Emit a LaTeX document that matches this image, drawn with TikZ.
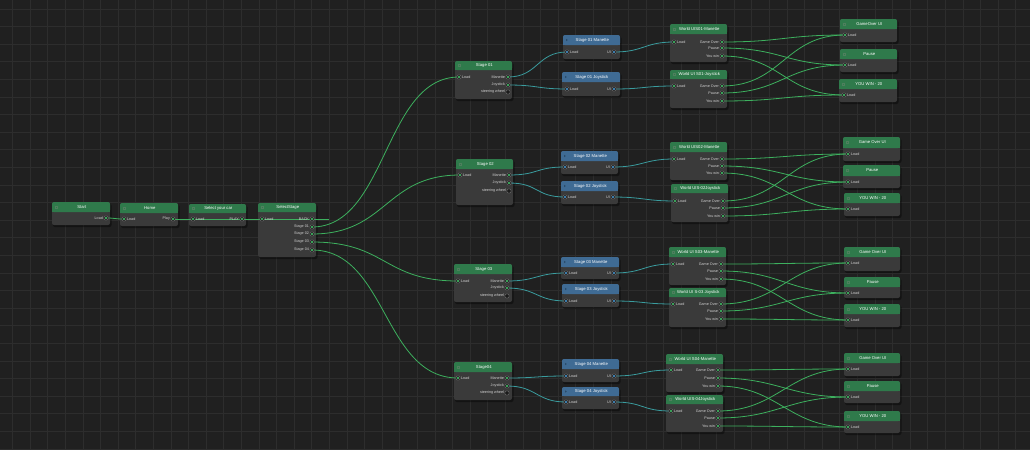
\documentclass[tikz,border=0pt]{standalone}
\usepackage{fontspec}
\setmainfont{Liberation Sans}
\usetikzlibrary{fit}
\definecolor{bgc}{HTML}{202020}
\definecolor{gridc}{HTML}{2D2D2D}
\definecolor{bodyc}{HTML}{3A3A3A}
\definecolor{greenh}{HTML}{2F7A4B}
\definecolor{blueh}{HTML}{3F6B94}
\definecolor{wgc}{HTML}{3DB05E}
\definecolor{wtc}{HTML}{3A9C9E}
\definecolor{portc}{HTML}{1C1C1C}
\definecolor{portd}{HTML}{6A6A6A}
\definecolor{dotg}{HTML}{45D06E}
\definecolor{dotb}{HTML}{4AA0E0}
\definecolor{labc}{HTML}{D2D2D2}
\definecolor{gicd}{HTML}{4F7F5E}
\definecolor{bicd}{HTML}{2A4A68}
\pgfdeclarelayer{bg}
\pgfdeclarelayer{top}
\pgfsetlayers{bg,main,top}
\tikzset{
  x=1pt, y=-1pt,
  ttl/.style={text=white,font=\fontsize{4.2}{5}\selectfont,inner sep=0pt},
  plab/.style={text=labc,font=\fontsize{3.7}{4}\selectfont,inner sep=0pt},
  port/.style={circle,inner sep=0pt,minimum size=4.4pt,fill=portc,draw=portd,line width=0.4pt},
  wireg/.style={draw=wgc,line width=0.8pt},
  wiret/.style={draw=wtc,line width=0.8pt},
  gicon/.style={draw=gicd,line width=0.35pt,inner sep=0pt,minimum size=2.2pt},
  bodystyle/.style={inner sep=0pt,fill=bodyc,rounded corners=2pt}
}
% #1 name, #2 x1, #3 y1, #4 x2, #5 y header bottom, #6 y2, #7 title, #8 header colour
\newcommand\nbox[8]{%
  \fill[black,opacity=.4,rounded corners=2pt] (#2+1,#3+1.5) rectangle (#4+1.5,#6+2);
  \node[fit={(#2,#3)(#4,#6)},bodystyle] (#1) {};
  \fill[#8,rounded corners=2pt] (#2,#3) rectangle (#4,#5);
  \fill[#8] (#2,#5-2.5) rectangle (#4,#5);
  \node[ttl] (#1-t) at ({(#2+#4)/2+0.8},{(#3+#5)/2}) {#7};
}
\newcommand\gbox[7]{\nbox{#1}{#2}{#3}{#4}{#5}{#6}{#7}{greenh}%
  \node[gicon] (#1-i) at (#2+3.8,{(#3+#5)/2}) {};}
\newcommand\bbox[7]{\nbox{#1}{#2}{#3}{#4}{#5}{#6}{#7}{blueh}%
  \fill[bicd] (#2+3,{(#3+#5)/2-1.2}) -- ++(1.8,1.2) -- ++(-1.8,1.2) -- cycle;}
% ports: #1 name, #2 x, #3 y, #4 label, #5 dot colour
\newcommand\pin[5]{\begin{pgfonlayer}{top}
  \node[port] (#1) at (#2,#3) {};
  \fill[#5] (#1.center) circle (1.1);
  \node[plab,anchor=west] (#1-l) at (#2+2.9,#3) {#4};
  \end{pgfonlayer}}
\newcommand\pout[5]{\begin{pgfonlayer}{top}
  \node[port] (#1) at (#2,#3) {};
  \fill[#5] (#1.center) circle (1.1);
  \node[plab,anchor=east] (#1-l) at (#2-2.9,#3) {#4};
  \end{pgfonlayer}}
\newcommand\poutx[4]{\begin{pgfonlayer}{top}
  \node[port] (#1) at (#2,#3) {};
  \node[plab,anchor=east] (#1-l) at (#2-2.9,#3) {#4};
  \end{pgfonlayer}}
\newcommand\wire[4]{\draw[#1] (#2.center) .. controls +(#4,0) and +(-#4,0) .. (#3.center);}

\begin{document}
\begin{tikzpicture}
\useasboundingbox (0,0) rectangle (1030,450);
\begin{pgfonlayer}{bg}
  \fill[bgc] (0,0) rectangle (1030,450);
  \foreach \i in {0,...,58} \draw[gridc,line width=0.7pt] (12.5+\i*17.6,0) -- (12.5+\i*17.6,450);
  \foreach \j in {0,...,25} \draw[gridc,line width=0.7pt] (0,9+\j*17.6) -- (1030,9+\j*17.6);
\end{pgfonlayer}

% ---------- left chain ----------
\gbox{start}{52}{202}{110}{212}{225}{Start}
\pout{start-load}{106}{218}{Load}{dotg}
\gbox{home}{120}{203}{178}{213}{226}{Home}
\pin{home-load}{124}{219}{Load}{dotg}
\pout{home-play}{173}{219}{Play}{dotg}
\gbox{car}{189}{204}{246}{213}{226}{Select your car}
\pin{car-load}{193}{219}{Load}{dotg}
\pout{car-play}{242}{219}{PLAY}{dotg}
\gbox{ss}{258}{203}{316}{212}{257}{SelectStage}
\pin{ss-load}{262}{219}{Load}{dotg}
\pout{ss-back}{312}{219}{BACK}{dotg}
\pout{ss-s1}{312}{227}{Stage 01}{dotg}
\pout{ss-s2}{312}{234}{Stage 02}{dotg}
\pout{ss-s3}{312}{242}{Stage 03}{dotg}
\pout{ss-s4}{312}{250}{Stage 04}{dotg}
\coordinate (backend) at (329,219);

% ---------- group 1 ----------
\gbox{s1}{455}{61}{512}{70}{99}{Stage 01}
\pin{s1-load}{459}{77}{Load}{dotg}
\pout{s1-man}{508}{77}{Manette}{dotg}
\pout{s1-joy}{508}{85}{Joystick}{dotg}
\poutx{s1-sw}{508}{92}{steering wheel}
\bbox{m1}{563}{35}{620}{45}{59}{Stage 01 Manette}
\pin{m1-load}{567}{52}{Load}{dotb}
\pout{m1-ui}{614}{52}{UI}{dotb}
\bbox{j1}{562}{72}{620}{82}{96}{Stage 01 Joystick}
\pin{j1-load}{567}{89}{Load}{dotb}
\pout{j1-ui}{614}{89}{UI}{dotb}
\gbox{wm1}{670}{24}{727}{34}{62}{World UIS01-Manette}
\pin{wm1-load}{674}{42}{Load}{dotg}
\pout{wm1-go}{722}{42}{Game Over}{dotg}
\pout{wm1-pa}{722}{48}{Pause}{dotg}
\pout{wm1-yw}{722}{56}{You win}{dotg}
\gbox{wj1}{670}{70}{727}{79}{108}{World UI S01-Joystick}
\pin{wj1-load}{674}{86}{Load}{dotg}
\pout{wj1-go}{722}{86}{Game Over}{dotg}
\pout{wj1-pa}{722}{93}{Pause}{dotg}
\pout{wj1-yw}{722}{101}{You win}{dotg}
\gbox{go1}{840}{19}{897}{29}{42}{GameOver UI}
\pin{go1-load}{845}{35}{Load}{dotg}
\gbox{pa1}{840}{49}{897}{59}{72}{Pause}
\pin{pa1-load}{845}{65}{Load}{dotg}
\gbox{yw1}{839}{79}{897}{89}{102}{YOU WIN - 20}
\pin{yw1-load}{844}{95}{Load}{dotg}

% ---------- group 2 ----------
\gbox{s2}{456}{159}{513}{169}{205}{Stage 02}
\pin{s2-load}{460}{175}{Load}{dotg}
\pout{s2-man}{509}{175}{Manette}{dotg}
\pout{s2-joy}{509}{183}{Joystick}{dotg}
\poutx{s2-sw}{509}{191}{steering wheel}
\bbox{m2}{561}{151}{618}{161}{174}{Stage 02 Manette}
\pin{m2-load}{565}{167}{Load}{dotb}
\pout{m2-ui}{613}{167}{UI}{dotb}
\bbox{j2}{561}{181}{618}{191}{204}{Stage 02 Joystick}
\pin{j2-load}{565}{197}{Load}{dotb}
\pout{j2-ui}{613}{197}{UI}{dotb}
\gbox{wm2}{670}{142}{727}{152}{180}{World UIS02-Manette}
\pin{wm2-load}{674}{159}{Load}{dotg}
\pout{wm2-go}{722}{159}{Game Over}{dotg}
\pout{wm2-pa}{722}{166}{Pause}{dotg}
\pout{wm2-yw}{722}{173}{You win}{dotg}
\gbox{wj2}{671}{184}{728}{193}{222}{World UIS-02Joystick}
\pin{wj2-load}{675}{201}{Load}{dotg}
\pout{wj2-go}{723}{201}{Game Over}{dotg}
\pout{wj2-pa}{723}{208}{Pause}{dotg}
\pout{wj2-yw}{723}{216}{You win}{dotg}
\gbox{go2}{843}{137}{900}{148}{161}{Game Over UI}
\pin{go2-load}{848}{154}{Load}{dotg}
\gbox{pa2}{843}{165}{900}{176}{188}{Pause}
\pin{pa2-load}{848}{182}{Load}{dotg}
\gbox{yw2}{844}{193}{900}{203}{216}{YOU WIN - 20}
\pin{yw2-load}{848}{209}{Load}{dotg}

% ---------- group 3 ----------
\gbox{s3}{454}{264}{512}{274}{302}{Stage 03}
\pin{s3-load}{458}{281}{Load}{dotg}
\pout{s3-man}{507}{281}{Manette}{dotg}
\pout{s3-joy}{507}{288}{Joystick}{dotg}
\poutx{s3-sw}{507}{296}{steering wheel}
\bbox{m3}{561}{257}{619}{267}{279}{Stage 03 Manette}
\pin{m3-load}{566}{273}{Load}{dotb}
\pout{m3-ui}{614}{273}{UI}{dotb}
\bbox{j3}{562}{284}{619}{294}{307}{Stage 03 Joystick}
\pin{j3-load}{566}{301}{Load}{dotb}
\pout{j3-ui}{614}{301}{UI}{dotb}
\gbox{wm3}{669}{247}{726}{257}{285}{World UI S03-Manette}
\pin{wm3-load}{673}{264}{Load}{dotg}
\pout{wm3-go}{721}{264}{Game Over}{dotg}
\pout{wm3-pa}{721}{271}{Pause}{dotg}
\pout{wm3-yw}{721}{279}{You win}{dotg}
\gbox{wj3}{669}{288}{726}{297}{327}{World UI S-03 Joystick}
\pin{wj3-load}{673}{304}{Load}{dotg}
\pout{wj3-go}{721}{304}{Game Over}{dotg}
\pout{wj3-pa}{721}{311}{Pause}{dotg}
\pout{wj3-yw}{721}{319}{You win}{dotg}
\gbox{go3}{844}{247}{900}{257}{271}{Game Over UI}
\pin{go3-load}{848}{263}{Load}{dotg}
\gbox{pa3}{844}{277}{900}{287}{298}{Pause}
\pin{pa3-load}{848}{293}{Load}{dotg}
\gbox{yw3}{844}{304}{900}{314}{327}{YOU WIN - 20}
\pin{yw3-load}{848}{320}{Load}{dotg}

% ---------- group 4 ----------
\gbox{s4}{454}{362}{512}{372}{400}{Stage04}
\pin{s4-load}{458}{378}{Load}{dotg}
\pout{s4-man}{507}{378}{Manette}{dotg}
\pout{s4-joy}{507}{386}{Joystick}{dotg}
\poutx{s4-sw}{507}{393}{steering wheel}
\bbox{m4}{562}{359}{619}{369}{382}{Stage 04 Manette}
\pin{m4-load}{566}{376}{Load}{dotb}
\pout{m4-ui}{614}{376}{UI}{dotb}
\bbox{j4}{562}{387}{619}{396}{409}{Stage 04 Joystick}
\pin{j4-load}{566}{402}{Load}{dotb}
\pout{j4-ui}{614}{402}{UI}{dotb}
\gbox{wm4}{666}{354}{723}{364}{392}{World UI S04-Manette}
\pin{wm4-load}{671}{370}{Load}{dotg}
\pout{wm4-go}{718}{370}{Game Over}{dotg}
\pout{wm4-pa}{718}{378}{Pause}{dotg}
\pout{wm4-yw}{718}{386}{You win}{dotg}
\gbox{wj4}{666}{395}{723}{404}{432}{World UIS-04Joystick}
\pin{wj4-load}{671}{411}{Load}{dotg}
\pout{wj4-go}{718}{411}{Game Over}{dotg}
\pout{wj4-pa}{718}{418}{Pause}{dotg}
\pout{wj4-yw}{718}{426}{You win}{dotg}
\gbox{go4}{844}{353}{900}{363}{376}{Game Over UI}
\pin{go4-load}{848}{369}{Load}{dotg}
\gbox{pa4}{844}{381}{900}{391}{403}{Pause}
\pin{pa4-load}{848}{397}{Load}{dotg}
\gbox{yw4}{844}{411}{900}{421}{433}{YOU WIN - 20}
\pin{yw4-load}{848}{427}{Load}{dotg}

% ---------- wires ----------
\wire{wireg}{start-load}{home-load}{10}
\wire{wireg}{home-play}{car-load}{10}
\wire{wireg}{car-play}{ss-load}{10}
\draw[wireg] (home-play.center) -- (backend);
\wire{wireg}{ss-s1}{s1-load}{75}
\wire{wireg}{ss-s2}{s2-load}{75}
\wire{wireg}{ss-s3}{s3-load}{75}
\wire{wireg}{ss-s4}{s4-load}{75}
\foreach \g in {1,2,3,4}{
  \wire{wiret}{s\g-man}{m\g-load}{30}
  \wire{wiret}{s\g-joy}{j\g-load}{30}
  \wire{wiret}{m\g-ui}{wm\g-load}{30}
  \wire{wiret}{j\g-ui}{wj\g-load}{30}
  \wire{wireg}{wm\g-go}{go\g-load}{60}
  \wire{wireg}{wm\g-pa}{pa\g-load}{60}
  \wire{wireg}{wm\g-yw}{yw\g-load}{60}
  \wire{wireg}{wj\g-go}{go\g-load}{60}
  \wire{wireg}{wj\g-pa}{pa\g-load}{60}
  \wire{wireg}{wj\g-yw}{yw\g-load}{60}
}
\end{tikzpicture}
\end{document}
